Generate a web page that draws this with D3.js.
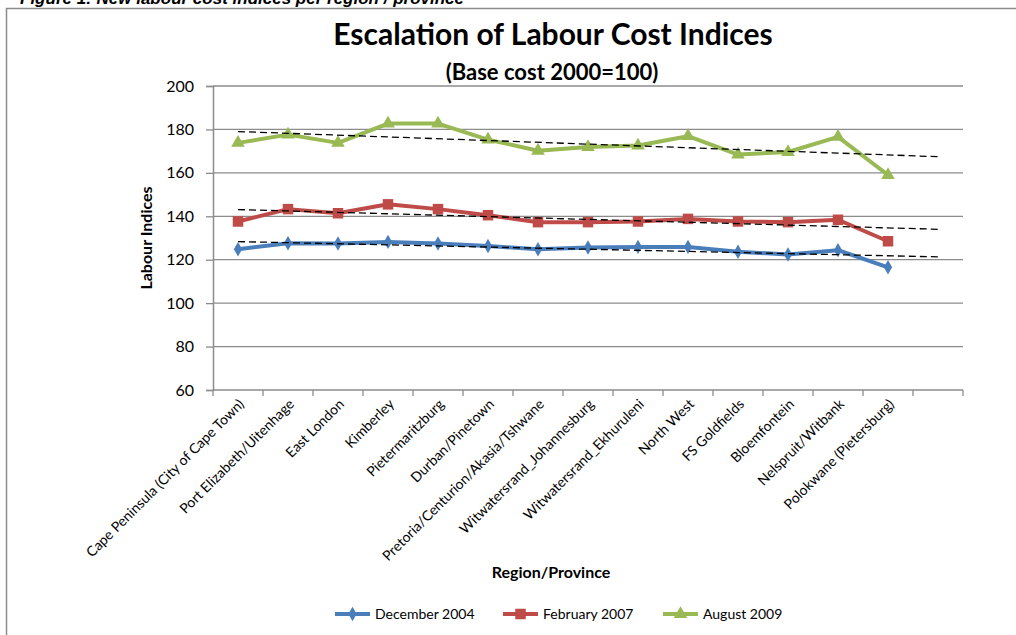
<!DOCTYPE html>
<html>
<head>
<meta charset="utf-8">
<title>Escalation of Labour Cost Indices</title>
<script src="https://cdn.jsdelivr.net/npm/d3@7"></script>
<style>
  body { margin: 0; background: #fff; }
  svg { display: block; font-family: Lato, "Open Sans", sans-serif; }
</style>
</head>
<body>
<div id="chart"></div>
<script>
const width = 1016, height = 635;

// categories (the last slot is left empty in the original chart)
const regions = [
  "Cape Peninsula (City of Cape Town)", "Port Elizabeth/Uitenhage", "East London",
  "Kimberley", "Pietermaritzburg", "Durban/Pinetown", "Pretoria/Centurion/Akasia/Tshwane",
  "Witwatersrand_Johannesburg", "Witwatersrand_Ekhuruleni", "North West", "FS Goldfields",
  "Bloemfontein", "Nelspruit/Witbank", "Polokwane (Pietersburg)"
];
const slots = regions.concat([""]);

const dec2004 = [124.8, 127.6, 127.5, 128.2, 127.5, 126.3, 124.8, 125.6, 125.9, 125.9, 123.7, 122.4, 124.4, 116.5];
const feb2007 = [137.6, 143.3, 141.4, 145.5, 143.3, 140.5, 137.3, 137.3, 137.6, 138.8, 137.6, 137.3, 138.4, 128.5];
const aug2009 = [173.8, 177.6, 173.8, 182.7, 182.7, 175.3, 170.2, 171.9, 172.6, 176.9, 168.4, 169.6, 176.6, 159.0];

const yTicks = [60, 80, 100, 120, 140, 160, 180, 200];

const series = [
  { name: "December 2004", values: dec2004, color: "#4a7ebb", marker: "diamond" },
  { name: "February 2007", values: feb2007, color: "#be4b48", marker: "square" },
  { name: "August 2009", values: aug2009, color: "#98b954", marker: "triangle" }
];

const plot = { left: 213, right: 963, top: 86, bottom: 390 };

const svg = d3.select("#chart").append("svg")
  .attr("width", width)
  .attr("height", height);

// figure caption, cut by the top of the page as in the source
svg.append("text")
  .attr("x", 20).attr("y", 4)
  .style("font-family", "Liberation Sans, Arial, sans-serif")
  .style("font-weight", "bold").style("font-style", "italic")
  .style("font-size", "17px")
  .text("Figure 1: New labour cost indices per region / province");

// chart frame
svg.append("path")
  .attr("d", "M6.5,640V8.5H1016")
  .attr("fill", "none").attr("stroke", "#8c8c8c").attr("stroke-width", 1.5);

const x = d3.scaleBand().domain(d3.range(slots.length)).range([plot.left, plot.right]);
const y = d3.scaleLinear().domain([60, 200]).range([plot.bottom, plot.top]);
const cx = i => x(i) + x.bandwidth() / 2;

// gridlines
svg.append("g")
  .selectAll("line")
  .data(yTicks.filter(d => d > 60))
  .join("line")
  .attr("x1", plot.left).attr("x2", plot.right)
  .attr("y1", d => y(d)).attr("y2", d => y(d))
  .attr("stroke", "#8c8c8c").attr("stroke-width", 1.3);

// y axis
const yAxis = svg.append("g")
  .attr("transform", `translate(${plot.left},0)`)
  .call(d3.axisLeft(y).tickValues(yTicks).tickSize(7).tickPadding(12));
yAxis.select(".domain").attr("stroke", "#8c8c8c").attr("stroke-width", 1.5);
yAxis.selectAll(".tick line").attr("stroke", "#8c8c8c").attr("stroke-width", 1.3);
yAxis.selectAll(".tick text").style("font-size", "16px").style("font-family", "Lato").attr("fill", "#000");

// x axis: ticks on category boundaries
const xAxis = svg.append("g").attr("transform", `translate(0,${plot.bottom})`);
xAxis.append("line")
  .attr("x1", plot.left).attr("x2", plot.right)
  .attr("stroke", "#8c8c8c").attr("stroke-width", 1.5);
xAxis.selectAll("line.tk")
  .data(d3.range(slots.length + 1))
  .join("line").attr("class", "tk")
  .attr("x1", i => plot.left + i * x.step()).attr("x2", i => plot.left + i * x.step())
  .attr("y1", 0).attr("y2", 6)
  .attr("stroke", "#8c8c8c").attr("stroke-width", 1.3);

svg.append("g")
  .selectAll("text")
  .data(regions)
  .join("text")
  .attr("transform", (d, i) => `translate(${cx(i) + 7},${plot.bottom + 15}) rotate(-45)`)
  .attr("text-anchor", "end")
  .style("font-size", "14px")
  .text(d => d);

// axis titles
svg.append("text")
  .attr("transform", `translate(152,${(plot.top + plot.bottom) / 2}) rotate(-90)`)
  .attr("text-anchor", "middle")
  .style("font-size", "16px").style("font-weight", "bold")
  .text("Labour Indices");

svg.append("text")
  .attr("x", 551).attr("y", 578)
  .attr("text-anchor", "middle")
  .style("font-size", "16px").style("font-weight", "bold")
  .text("Region/Province");

// titles
svg.append("text")
  .attr("x", 553).attr("y", 45)
  .attr("text-anchor", "middle")
  .style("font-size", "30px").style("font-weight", "bold")
  .text("Escalation of Labour Cost Indices");
svg.append("text")
  .attr("x", 552).attr("y", 80)
  .attr("text-anchor", "middle")
  .style("font-size", "22px").style("font-weight", "bold")
  .text("(Base cost 2000=100)");

// markers
const symbolFor = {
  diamond: d3.symbol().type(d3.symbolDiamond).size(60),
  square: d3.symbol().type(d3.symbolSquare).size(110),
  triangle: d3.symbol().type(d3.symbolTriangle).size(80)
};

const line = d3.line().x((d, i) => cx(i)).y(d => y(d));

series.forEach(s => {
  const g = svg.append("g");
  g.append("path")
    .attr("d", line(s.values))
    .attr("fill", "none").attr("stroke", s.color)
    .attr("stroke-width", 4).attr("stroke-linejoin", "round");
  g.selectAll("path.m")
    .data(s.values)
    .join("path").attr("class", "m")
    .attr("transform", (d, i) => `translate(${cx(i)},${y(d)})`)
    .attr("d", symbolFor[s.marker]())
    .attr("fill", s.color);
});

// linear trendlines, forecast one period forward
series.forEach(s => {
  const n = s.values.length;
  const xs = d3.range(n);
  const mx = d3.mean(xs), my = d3.mean(s.values);
  const slope = d3.sum(xs, i => (i - mx) * (s.values[i] - my)) / d3.sum(xs, i => (i - mx) ** 2);
  const b = my - slope * mx;
  svg.append("line")
    .attr("x1", cx(0)).attr("y1", y(b))
    .attr("x2", cx(n)).attr("y2", y(b + slope * n))
    .attr("stroke", "#000").attr("stroke-width", 1.3)
    .attr("stroke-dasharray", "7,4");
});

// legend
const legendX = [335, 503, 663];
const legend = svg.append("g");
series.forEach((s, k) => {
  const g = legend.append("g").attr("transform", `translate(${legendX[k]},614)`);
  g.append("line").attr("x1", 0).attr("x2", 35)
    .attr("stroke", s.color).attr("stroke-width", 4);
  g.append("path").attr("transform", "translate(17.5,0)")
    .attr("d", symbolFor[s.marker]()).attr("fill", s.color);
  g.append("text").attr("x", 40).attr("y", 5)
    .style("font-size", "14px").text(s.name);
});
</script>
</body>
</html>
